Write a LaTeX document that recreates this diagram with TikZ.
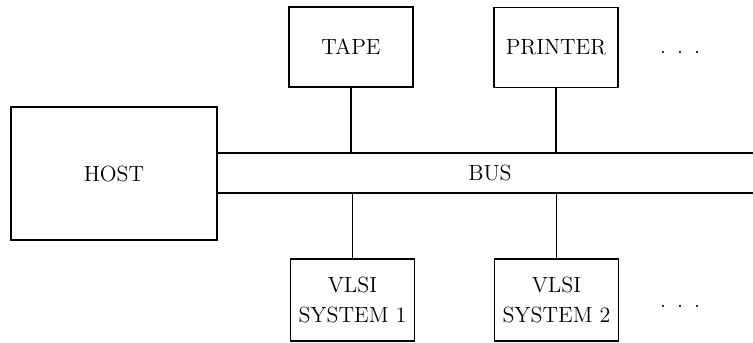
\documentclass[tikz,border=0pt]{standalone}
\begin{document}
\begin{tikzpicture}[x=0.5pt,y=-0.5pt,line width=0.8pt,
  font=\fontsize{11}{15}\selectfont,
  box/.style={draw,minimum width=62pt,minimum height=40pt,align=center,inner sep=0pt}]
  \useasboundingbox (0,0) rectangle (753,342);
  \node[box,minimum width=103pt,minimum height=66.5pt] (host) at (114,173.5) {HOST};
  \node[box] (tape) at (351,47) {TAPE};
  \node[box] (printer) at (556,47.5) {PRINTER};
  \node[box,minimum height=41pt] (vlsi1) at (352.5,300) {VLSI\\SYSTEM 1};
  \node[box,minimum height=41pt] (vlsi2) at (556.5,300) {VLSI\\SYSTEM 2};
  % the bus runs off the right edge
  \coordinate (bt) at (753,153);
  \coordinate (bb) at (753,193);
  \draw (host.east |- bt) -- (bt);
  \draw (host.east |- bb) -- (bb);
  \node (bus) at (490,173) {BUS};
  \draw (tape) -- (tape |- bt);
  \draw (printer) -- (printer |- bt);
  \draw (vlsi1) -- (vlsi1 |- bb);
  \draw (vlsi2) -- (vlsi2 |- bb);
  \node[anchor=base] (more1) at (680,54) {.\enspace.\enspace.};
  \node[anchor=base] (more2) at (680,307) {.\enspace.\enspace.};
\end{tikzpicture}
\end{document}
